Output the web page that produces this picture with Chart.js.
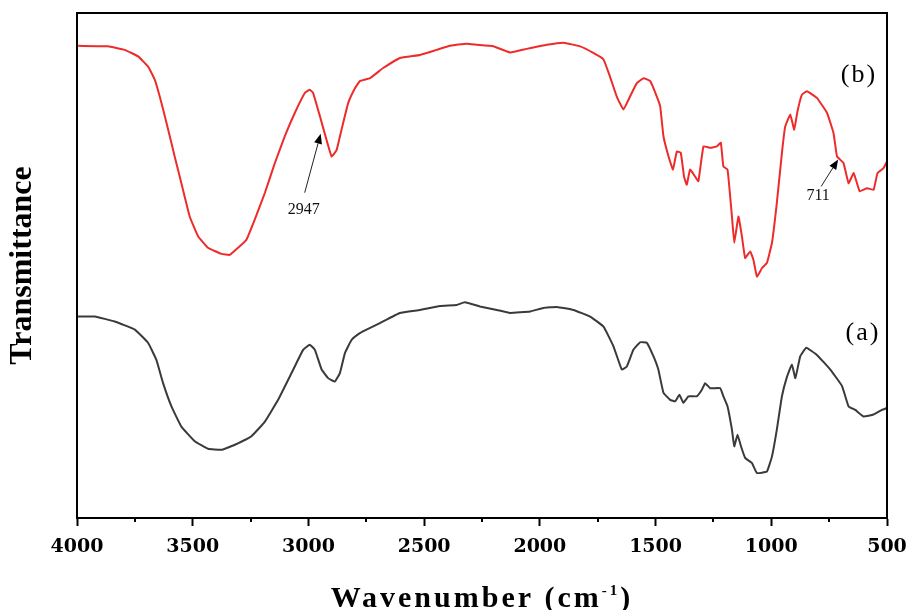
<!DOCTYPE html>
<html>
<head>
<meta charset="utf-8">
<title>FTIR spectra</title>
<script src="https://cdn.jsdelivr.net/npm/chart.js@4"></script>
<style>
  html, body { margin: 0; padding: 0; background: #fff; }
  canvas { display: block; }
</style>
</head>
<body>
<canvas id="chart" width="907" height="610"></canvas>
<script>
// Spectrum (b) - red trace
const waveB = [3995, 3866, 3794, 3736, 3693, 3664, 3635, 3606, 3578, 3549, 3513, 3477, 3434, 3376, 3340,
  3304, 3268, 3232, 3188, 3145, 3102, 3059, 3015, 2994, 2980, 2950, 2922, 2900, 2878, 2857, 2828, 2799,
  2778, 2734, 2677, 2605, 2518, 2446, 2388, 2316, 2273, 2201, 2129, 2057, 1970, 1898, 1826, 1769, 1725,
  1697, 1668, 1639, 1610, 1581, 1552, 1523, 1495, 1480, 1466, 1444, 1425, 1408, 1391, 1377, 1365, 1351,
  1329, 1315, 1293, 1264, 1235, 1218, 1207, 1189, 1170, 1160, 1142, 1127, 1113, 1091, 1077, 1062, 1040,
  1019, 997, 976, 954, 940, 918, 901, 887, 868, 846, 803, 759, 731, 716, 688, 666, 644, 618, 586, 558,
  541, 515, 500];
const transB = [93.5, 93.4, 92.7, 91.4, 89.4, 86.8, 82.2, 76.9, 71.6, 66.3, 59.7, 55.8, 53.5, 52.3, 52.1,
  53.5, 55.1, 59.1, 64.4, 70.3, 75.6, 80.2, 84.2, 84.8, 84.2, 79.5, 74.9, 71.6, 72.9, 76.9, 82.2, 85.1,
  86.5, 87.1, 89.1, 91.1, 91.7, 92.7, 93.5, 93.9, 93.7, 93.4, 92.2, 92.9, 93.7, 94.1, 93.4, 92.1, 90.8,
  87.4, 83.5, 80.9, 83.5, 86.1, 87.1, 86.5, 83.5, 81.5, 75.6, 71.6, 69.0, 72.6, 72.3, 67.6, 66.0, 69.0,
  67.6, 66.7, 73.6, 73.3, 73.6, 74.3, 69.6, 69.0, 59.7, 54.5, 59.7, 55.8, 51.5, 52.8, 51.1, 47.8, 49.5,
  50.5, 54.5, 62.4, 72.3, 77.5, 79.9, 76.9, 80.5, 83.8, 84.5, 83.2, 80.2, 76.2, 71.6, 70.3, 66.3, 68.3, 64.7, 65.3, 65.0,
  68.3, 69.3, 70.6];

// Spectrum (a) - dark grey trace
const waveA = [4000, 3923, 3837, 3750, 3693, 3657, 3628, 3592, 3549, 3491, 3434, 3376, 3318, 3246, 3188,
  3131, 3073, 3023, 2994, 2972, 2943, 2915, 2886, 2864, 2842, 2813, 2778, 2749, 2691, 2605, 2518, 2432,
  2359, 2324, 2259, 2186, 2129, 2042, 1985, 1927, 1855, 1783, 1725, 1682, 1646, 1624, 1596, 1567, 1538,
  1509, 1488, 1466, 1437, 1415, 1397, 1380, 1358, 1322, 1300, 1286, 1264, 1221, 1207, 1189, 1170, 1160,
  1146, 1131, 1113, 1084, 1062, 1019, 997, 976, 954, 932, 911, 896, 875, 849, 803, 745, 694, 666, 637,
  601, 558, 522, 500];
const transA = [39.9, 39.9, 38.9, 37.3, 34.7, 31.3, 26.7, 22.1, 18.1, 15.2, 13.7, 13.5, 14.5, 16.2, 19.1,
  23.4, 28.7, 33.3, 34.3, 33.3, 29.4, 27.7, 27.0, 28.7, 32.7, 35.3, 36.6, 37.3, 38.6, 40.6, 41.2, 42.0,
  42.2, 42.7, 41.9, 41.2, 40.6, 40.9, 41.6, 41.8, 41.2, 39.9, 37.9, 34.0, 29.4, 30.0, 33.3, 34.8, 34.7,
  32.0, 29.4, 24.8, 23.4, 23.1, 24.4, 22.8, 24.1, 24.1, 25.4, 26.7, 25.7, 25.7, 24.1, 22.1, 17.5, 14.2,
  16.5, 14.2, 11.9, 10.9, 8.9, 9.2, 12.2, 17.5, 24.1, 28.0, 30.4, 27.7, 32.0, 33.7, 32.3, 29.4, 26.1, 22.1, 21.4,
  20.1, 20.5, 21.4, 21.8];

const xTicks = [4000, 3500, 3000, 2500, 2000, 1500, 1000, 500];
const xMinorTicks = [3750, 3250, 2750, 2250, 1750, 1250, 750];

// Peak markers: label, wavenumber, transmittance at the arrow tip
const peakLabels = ['2947', '711'];
const peakWave = [2947, 711];
const peakTrans = [76.1, 71.0];

const seriesLabels = ['(b)', '(a)'];

const toPoints = (xs, ys) => xs.map((x, i) => ({ x: x, y: ys[i] }));

// frame, minor ticks, axis title, series tags and peak arrows
const decorations = {
  id: 'decorations',
  beforeDraw(chart) {
    const c = chart.ctx;
    c.save();
    c.fillStyle = '#fff';
    c.fillRect(0, 0, chart.width, chart.height);
    c.restore();
  },
  afterDraw(chart) {
    const c = chart.ctx;
    const area = chart.chartArea;
    const xs = chart.scales.x, ys = chart.scales.y;
    c.save();

    c.strokeStyle = '#000';
    c.lineWidth = 2;
    c.strokeRect(area.left, area.top, area.right - area.left, area.bottom - area.top);

    c.beginPath();
    xMinorTicks.forEach(v => {
      const px = Math.round(xs.getPixelForValue(v));
      c.moveTo(px, area.bottom);
      c.lineTo(px, area.bottom + 4);
    });
    c.stroke();

    // x axis title with superscript
    c.fillStyle = '#000';
    c.textBaseline = 'alphabetic';
    c.letterSpacing = '3px';
    const mainFont = 'bold 30px "Liberation Serif"';
    const supFont = 'bold 15px "Liberation Serif"';
    c.font = mainFont;
    const wMain = c.measureText('Wavenumber (cm').width;
    const wEnd = c.measureText(')').width;
    c.font = supFont;
    const wSup = c.measureText('-1').width;
    const cx = (area.left + area.right) / 2;
    let tx = cx - (wMain + wSup + wEnd) / 2;
    const base = 607;
    c.textAlign = 'left';
    c.font = mainFont;
    c.fillText('Wavenumber (cm', tx, base);
    tx += wMain;
    c.font = supFont;
    c.fillText('-1', tx, base - 12);
    tx += wSup;
    c.font = mainFont;
    c.fillText(')', tx, base);

    // series tags
    c.letterSpacing = '2px';
    c.font = '26px "Liberation Serif"';
    c.textAlign = 'center';
    c.textBaseline = 'middle';
    c.fillText(seriesLabels[0], 859, 75);
    c.fillText(seriesLabels[1], 863, 333);

    // peak arrows
    c.letterSpacing = '0px';
    c.font = '16px "Liberation Serif"';
    const tails = [[-16, 59], [-17, 27]];
    const textPos = [[-17, 76], [-20, 36]];
    peakWave.forEach((w, i) => {
      const tipX = xs.getPixelForValue(w);
      const tipY = ys.getPixelForValue(peakTrans[i]);
      const tailX = tipX + tails[i][0];
      const tailY = tipY + tails[i][1];
      const ang = Math.atan2(tipY - tailY, tipX - tailX);
      const headLen = 10, headW = 4;
      const bx = tipX - headLen * Math.cos(ang);
      const by = tipY - headLen * Math.sin(ang);
      c.strokeStyle = '#222';
      c.lineWidth = 1;
      c.beginPath();
      c.moveTo(tailX, tailY);
      c.lineTo(bx, by);
      c.stroke();
      c.fillStyle = '#000';
      c.beginPath();
      c.moveTo(tipX, tipY);
      c.lineTo(bx + headW * Math.sin(ang), by - headW * Math.cos(ang));
      c.lineTo(bx - headW * Math.sin(ang), by + headW * Math.cos(ang));
      c.closePath();
      c.fill();
      c.fillStyle = '#111';
      c.fillText(peakLabels[i], tipX + textPos[i][0], tipY + textPos[i][1]);
    });
    c.restore();
  }
};

const chart = new Chart(document.getElementById('chart'), {
  type: 'line',
  data: {
    datasets: [
      {
        label: seriesLabels[0],
        data: toPoints(waveB, transB),
        borderColor: '#ee2b2b',
        borderWidth: 2,
        pointRadius: 0,
        tension: 0.1
      },
      {
        label: seriesLabels[1],
        data: toPoints(waveA, transA),
        borderColor: '#3a3a3a',
        borderWidth: 2,
        pointRadius: 0,
        tension: 0.1
      }
    ]
  },
  options: {
    responsive: false,
    animation: false,
    layout: { padding: { top: 13, right: 20, left: 0, bottom: 0 } },
    plugins: {
      legend: { display: false },
      tooltip: { enabled: false }
    },
    scales: {
      x: {
        type: 'linear',
        reverse: true,
        min: 500,
        max: 4000,
        afterBuildTicks: scale => { scale.ticks = xTicks.map(v => ({ value: v })); },
        ticks: {
          color: '#000',
          padding: 10,
          maxRotation: 0,
          autoSkip: false,
          font: { family: 'DejaVu Serif', size: 19, weight: 'bold' },
          callback: v => String(v)
        },
        grid: { drawOnChartArea: false, tickLength: 8, tickWidth: 2, tickColor: '#000' },
        border: { color: '#000', width: 2 },
        afterFit: scale => {
          scale.height = 92;
          scale.paddingLeft = 0;
          scale.paddingRight = 0;
        }
      },
      y: {
        min: 0,
        max: 100,
        ticks: { display: false },
        grid: { display: false },
        border: { color: '#000', width: 2 },
        title: {
          display: true,
          text: 'Transmittance',
          color: '#000',
          padding: { top: 4, bottom: 0 },
          font: { family: 'Liberation Serif', size: 32, weight: 'bold' }
        },
        afterFit: scale => { scale.width = 77; }
      }
    }
  },
  plugins: [decorations]
});
</script>
</body>
</html>
